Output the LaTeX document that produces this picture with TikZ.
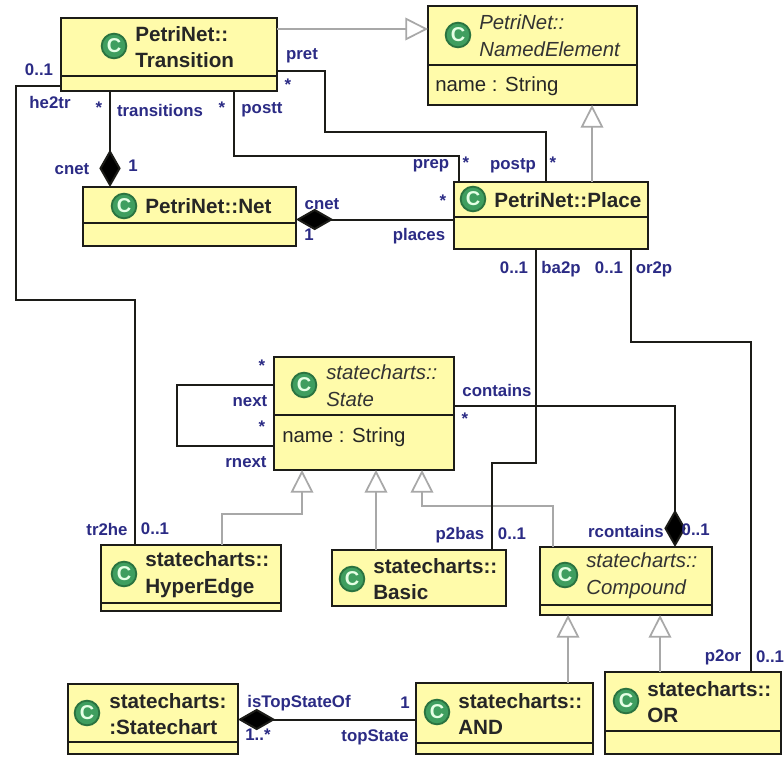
\documentclass[tikz,border=0pt]{standalone}
\usepackage{fontspec}
\setmainfont{Liberation Sans}
\usepackage{tikz}
\usetikzlibrary{arrows.meta}
\definecolor{boxfill}{HTML}{FFFBAA}
\definecolor{boxline}{HTML}{1C1C18}
\definecolor{lblblue}{HTML}{2B2B85}
\definecolor{iconfill}{HTML}{3F9E5F}
\definecolor{iconline}{HTML}{2A7340}
\definecolor{gengray}{HTML}{A8A8A8}

\begin{document}
\begin{tikzpicture}
	[x=0.75pt, y=-0.75pt,
	class box/.style 2 args={rectangle, draw=boxline, fill=boxfill, line width=1.5pt, outer sep=0pt, minimum width=#1*0.75pt, minimum height=#2*0.75pt},
	icon/.style={circle, draw=iconline, fill=iconfill, line width=1.4pt, minimum size=18.5pt, inner sep=0pt, text=white!90!green, font=\fontsize{15}{15}\selectfont\bfseries},
	title/.style={anchor=west, align=left, inner sep=0pt, text=black!85, font=\fontsize{15.5}{20}\selectfont\bfseries},
	ititle/.style={anchor=west, align=left, inner sep=0pt, text=black!80, font=\fontsize{15.3}{20}\selectfont\itshape},
	attr/.style={anchor=west, inner sep=0pt, text=black!85, font=\fontsize{15.3}{18}\selectfont},
	lbl/.style={inner sep=0pt, text=lblblue, font=\fontsize{12.6}{14}\selectfont\bfseries},
	sep/.style={draw=boxline, line width=1.5pt},
	assoc/.style={draw=boxline, line width=1.5pt},
	comp/.style={draw=boxline, line width=1.5pt, {Diamond[length=28pt,width=16pt,fill=black]}-},
	gen/.style={draw=gengray, line width=1.3pt, -{Triangle[open,length=17pt,width=17pt,fill=white]}}]
	\useasboundingbox (0, 0) rectangle (784, 756);
	\fill[white] (0, 0) rectangle (784, 756);

	% classes
	\node[class box={216}{73}]  (trans) at (169, 54.5) {};
	\node[class box={209}{99}]  (named) at (532.5, 55.5) {};
	\node[class box={213}{59}]  (net) at (189.5, 216.5) {};
	\node[class box={194}{67}]  (place) at (551, 215.5) {};
	\node[class box={180}{113}] (state) at (364, 413.5) {};
	\node[class box={180}{66}]  (hyper) at (191, 578) {};
	\node[class box={174}{56}]  (basic) at (419, 578) {};
	\node[class box={172}{68}]  (compound) at (626, 581) {};
	\node[class box={177}{71}]  (andst) at (504.5, 718.5) {};
	\node[class box={176}{82}]  (orst) at (693, 713) {};
	\node[class box={170}{70}]  (chart) at (153, 719) {};

	% compartments
	\draw[sep] (trans.west |- 0,76) -- (trans.east |- 0,76);
	\draw[sep] (named.west |- 0,65) -- (named.east |- 0,65);
	\draw[sep] (net.west |- 0,223) -- (net.east |- 0,223);
	\draw[sep] (place.west |- 0,217) -- (place.east |- 0,217);
	\draw[sep] (state.west |- 0,415) -- (state.east |- 0,415);
	\draw[sep] (hyper.west |- 0,603) -- (hyper.east |- 0,603);
	\draw[sep] (compound.west |- 0,605) -- (compound.east |- 0,605);
	\draw[sep] (andst.west |- 0,743) -- (andst.east |- 0,743);
	\draw[sep] (orst.west |- 0,731) -- (orst.east |- 0,731);
	\draw[sep] (chart.west |- 0,742) -- (chart.east |- 0,742);

	% icons
	\node[icon] (itrans) at (114, 46) {C};
	\node[icon] (inamed) at (458, 35) {C};
	\node[icon] (inet) at (124, 206) {C};
	\node[icon] (iplace) at (473, 199) {C};
	\node[icon] (istate) at (304, 385) {C};
	\node[icon] (ihyper) at (124, 574) {C};
	\node[icon] (ibasic) at (352, 579) {C};
	\node[icon] (icompound) at (565, 575) {C};
	\node[icon] (iandst) at (437, 712) {C};
	\node[icon] (iorst) at (626, 701) {C};
	\node[icon] (ichart) at (87, 713) {C};

	% titles
	\node[title]  (ttrans) at (135, 47) {PetriNet::\\Transition};
	\node[ititle] (tnamed) at (479, 36) {PetriNet::\\NamedElement};
	\node[title]  (tnet) at (145, 206) {PetriNet::Net};
	\node[title]  (tplace) at (494, 200) {PetriNet::Place};
	\node[ititle] (tstate) at (326, 386) {statecharts::\\State};
	\node[title]  (thyper) at (145, 575) {statecharts::\\HyperEdge};
	\node[title]  (tbasic) at (373, 579) {statecharts::\\Basic};
	\node[ititle] (tcompound) at (586, 576) {statecharts::\\Compound};
	\node[title]  (tandst) at (458, 714) {statecharts::\\AND};
	\node[title]  (torst) at (647, 702) {statecharts::\\OR};
	\node[title]  (tchart) at (109, 714) {statecharts:\\:Statechart};
	\node[attr]   (anamed) at (435, 86) {name : String};
	\node[attr]   (astate) at (282, 437) {name : String};

	% generalizations
	\draw[gen] (trans.east |- 0,29) -- (named.west |- 0,29);
	\draw[gen] (place.north -| 592,0) -- (named.south -| 592,0);
	\draw[gen] (hyper.north -| 222,0) |- (302, 514) -- (state.south -| 302,0);
	\draw[gen] (basic.north -| 376,0) -- (state.south -| 376,0);
	\draw[gen] (compound.north -| 553,0) |- (422, 506) -- (state.south -| 422,0);
	\draw[gen] (andst.north -| 568,0) -- (compound.south -| 568,0);
	\draw[gen] (orst.north -| 660,0) -- (compound.south -| 660,0);

	% associations
	\draw[assoc] (trans.east |- 0,71) -| (325, 132) -| (place.north -| 546,0);
	\draw[assoc] (trans.south -| 234,0) |- (459, 156) -- (place.north -| 459,0);
	\draw[assoc] (trans.west |- 0,86) -| (16, 300) -| (hyper.north -| 135,0);
	\draw[assoc] (place.south -| 536,0) |- (492, 463) -- (basic.north -| 492,0);
	\draw[assoc] (place.south -| 631,0) |- (751, 342) -- (orst.north -| 751,0);
	\draw[assoc] (state.west |- 0,385) -| (177, 446) -- (state.west |- 0,446);

	% compositions
	\draw[comp] (net.north -| 110,0) -- (trans.south -| 110,0);
	\draw[comp] (net.east |- 0,219.5) -- (place.west |- 0,219.5);
	\draw[comp] (compound.north -| 675,0) |- (state.east |- 0,406);
	\draw[comp] (chart.east |- 0,719.5) -- (andst.west |- 0,719.5);

	% role names and multiplicities
	\node[lbl] (mheA) at (39, 70) {0..1};
	\node[lbl] (he2tr) at (50, 102) {he2tr};
	\node[lbl] (mtrs) at (99, 108) {*};
	\node[lbl] (transitions) at (160, 110) {transitions};
	\node[lbl] (mpostt) at (222, 108) {*};
	\node[lbl] (postt) at (262, 110) {postt};
	\node[lbl] (pret) at (302, 56) {pret};
	\node[lbl] (mpret) at (288, 85) {*};
	\node[lbl] (cnetA) at (72, 169) {cnet};
	\node[lbl] (mcnetA) at (133, 166) {1};
	\node[lbl] (cnetB) at (322, 204) {cnet};
	\node[lbl] (mcnetB) at (309, 235) {1};
	\node[lbl] (places) at (419, 236) {places};
	\node[lbl] (mplaces) at (443, 201) {*};
	\node[lbl] (prep) at (431, 166) {prep};
	\node[lbl] (mprep) at (466, 163) {*};
	\node[lbl] (postp) at (513, 166) {postp};
	\node[lbl] (mpostp) at (553, 163) {*};
	\node[lbl] (mbaA) at (514, 268) {0..1};
	\node[lbl] (ba2p) at (561, 269) {ba2p};
	\node[lbl] (morA) at (609, 268) {0..1};
	\node[lbl] (or2p) at (654, 269) {or2p};
	\node[lbl] (mnext) at (262, 366) {*};
	\node[lbl] (next) at (250, 401) {next};
	\node[lbl] (mrnext) at (262, 427) {*};
	\node[lbl] (rnext) at (246, 462) {rnext};
	\node[lbl] (contains) at (497, 390) {contains};
	\node[lbl] (mcontains) at (465, 419) {*};
	\node[lbl] (tr2he) at (107, 529) {tr2he};
	\node[lbl] (mheB) at (155, 529) {0..1};
	\node[lbl] (p2bas) at (460, 535) {p2bas};
	\node[lbl] (mbaB) at (512, 534) {0..1};
	\node[lbl] (rcontains) at (626, 531) {rcontains};
	\node[lbl, anchor=east] (mrcontains) at (710, 530) {0..1};
	\node[lbl] (p2or) at (723, 657) {p2or};
	\node[lbl] (morB) at (770, 657) {0..1};
	\node[lbl] (isTop) at (299, 703) {isTopStateOf};
	\node[lbl] (mtopA) at (405, 703) {1};
	\node[lbl] (topState) at (375, 737) {topState};
	\node[lbl] (mtopB) at (258, 735) {1..*};
\end{tikzpicture}
\end{document}
